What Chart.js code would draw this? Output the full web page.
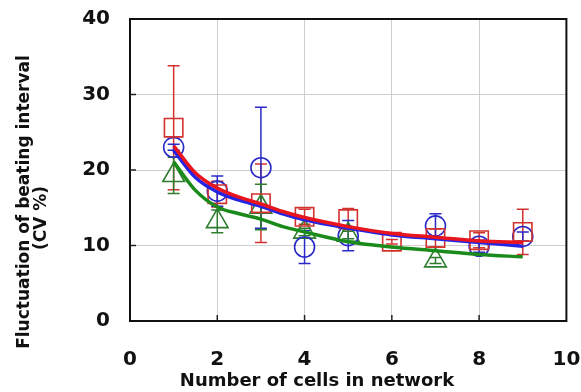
<!DOCTYPE html>
<html>
<head>
<meta charset="utf-8">
<script src="https://cdn.jsdelivr.net/npm/chart.js@4"></script>
<style>
  html, body { margin: 0; padding: 0; background: #fff; }
  #wrap { width: 581px; height: 392px; }
</style>
</head>
<body>
<div id="wrap"><canvas id="chart" width="581" height="392"></canvas></div>
<script>
// measured points (mean +- error)
const redX = [1, 2, 3, 4, 5, 6, 7, 8, 9]
const redY = [25.6, 16.8, 15.6, 13.8, 13.5, 10.5, 11.0, 10.7, 11.8]
const redErr = [8.2, 1.7, 5.2, 1.0, 1.4, 0.3, 1.2, 1.0, 3.0]

const blueX = [1, 2, 3, 4, 5, 7, 8, 9]
const blueY = [23.0, 17.2, 20.3, 9.8, 11.3, 12.6, 9.9, 11.2]
const blueErr = [0.4, 2.0, 8.0, 2.2, 2.0, 1.6, 0.8, 0.6]

const greenX = [1, 2, 3, 4, 5, 7]
const greenY = [19.3, 13.2, 15.1, 11.8, 11.4, 8.0]
const greenErr = [2.4, 1.5, 3.0, 0.5, 0.5, 0.4]

// fitted curves
const curveX = [1, 1.5, 2, 2.5, 3, 3.5, 4, 5, 6, 7, 8, 9]
const redFit = [23.2, 19.6, 17.6, 16.4, 15.5, 14.5, 13.7, 12.5, 11.6, 11.1, 10.6, 10.4]
const blueFit = [22.6, 19.0, 17.1, 16.0, 15.2, 14.2, 13.4, 12.3, 11.4, 10.9, 10.4, 9.9]
const greenFit = [21.1, 17.3, 15.1, 14.2, 13.5, 12.5, 11.8, 10.5, 9.8, 9.3, 8.8, 8.5]

const xTicks = [0, 2, 4, 6, 8, 10]
const yTicks = [0, 10, 20, 30, 40]

const FONT = '"DejaVu Sans", Arial, sans-serif'

const pts = (xs, ys) => xs.map((x, i) => ({ x, y: ys[i] }))

const fitLine = (data, color) => ({
  type: 'line',
  data: pts(curveX, data),
  borderColor: color,
  borderWidth: 3.5,
  pointRadius: 0,
  fill: false,
  cubicInterpolationMode: 'monotone'
})

const markers = (xs, ys, errs, color, style, r) => ({
  type: 'scatter',
  data: pts(xs, ys),
  errs,
  pointStyle: style,
  pointRadius: r,
  pointHoverRadius: r,
  pointBorderColor: color,
  pointBackgroundColor: 'rgba(0,0,0,0)',
  pointBorderWidth: 1.6,
  showLine: false
})

// error bars, frame, inner ticks and axis titles
const extras = {
  id: 'extras',
  beforeDatasetsDraw (chart) {
    const { ctx, scales: { x, y } } = chart
    ctx.save()
    ctx.lineWidth = 1.5
    chart.data.datasets.forEach((ds) => {
      if (!ds.errs) return
      ctx.strokeStyle = ds.pointBorderColor
      ds.data.forEach((p, i) => {
        const px = x.getPixelForValue(p.x)
        const top = y.getPixelForValue(p.y + ds.errs[i])
        const bot = y.getPixelForValue(p.y - ds.errs[i])
        ctx.beginPath()
        ctx.moveTo(px, top); ctx.lineTo(px, bot)
        ctx.moveTo(px - 6, top); ctx.lineTo(px + 6, top)
        ctx.moveTo(px - 6, bot); ctx.lineTo(px + 6, bot)
        ctx.stroke()
      })
    })
    ctx.restore()
  },
  afterDraw (chart) {
    const { ctx, chartArea: a, scales: { x, y } } = chart
    ctx.save()
    ctx.strokeStyle = '#222'
    ctx.lineWidth = 1.5
    yTicks.slice(1, -1).forEach((v) => {
      const py = y.getPixelForValue(v)
      ctx.beginPath(); ctx.moveTo(a.left, py); ctx.lineTo(a.left + 6, py); ctx.stroke()
    })
    xTicks.slice(1, -1).forEach((v) => {
      const px = x.getPixelForValue(v)
      ctx.beginPath(); ctx.moveTo(px, a.bottom); ctx.lineTo(px, a.bottom - 6); ctx.stroke()
    })
    ctx.lineWidth = 2
    ctx.strokeStyle = '#111'
    ctx.strokeRect(a.left, a.top, a.right - a.left, a.bottom - a.top)

    ctx.fillStyle = '#111'
    ctx.textAlign = 'center'
    ctx.textBaseline = 'middle'
    ctx.font = 'bold 18px ' + FONT
    ctx.fillText('Number of cells in network', 317, 381)

    ctx.font = 'bold 17px ' + FONT
    ctx.translate(25, 202)
    ctx.rotate(-Math.PI / 2)
    ctx.fillText('Fluctuation of beating interval', 0, 0)
    ctx.fillText('(CV %)', -16, 17)
    ctx.restore()
  }
}

new Chart(document.getElementById('chart'), {
  type: 'scatter',
  data: {
    datasets: [
      fitLine(redFit, '#e8141e'),
      fitLine(blueFit, '#2424e6'),
      fitLine(greenFit, '#1a8a1a'),
      markers(redX, redY, redErr, '#d2322d', 'rect', 13),
      markers(blueX, blueY, blueErr, '#2a2ac8', 'circle', 10),
      markers(greenX, greenY, greenErr, '#2e7d2e', 'triangle', 12.5)
    ]
  },
  options: {
    responsive: false,
    animation: false,
    layout: { padding: { left: 0, right: 13, top: 19, bottom: 0 } },
    plugins: { legend: { display: false }, tooltip: { enabled: false } },
    scales: {
      x: {
        type: 'linear',
        min: 0,
        max: 10,
        afterFit (s) {
          s.height = 71
          s.paddingLeft = 0
          s.paddingRight = 0
        },
        afterBuildTicks (s) { s.ticks = xTicks.map(v => ({ value: v })) },
        grid: {
          drawTicks: false,
          color: (c) => (c.tick && (c.tick.value === 0 || c.tick.value === 10)) ? 'rgba(0,0,0,0)' : '#cfcfcf'
        },
        border: { display: false },
        ticks: { padding: 27, color: '#111', font: { family: FONT, size: 20, weight: 'bold' } }
      },
      y: {
        min: 0,
        max: 40,
        afterFit (s) {
          s.width = 130
          s.paddingTop = 0
          s.paddingBottom = 0
        },
        afterBuildTicks (s) { s.ticks = yTicks.map(v => ({ value: v })) },
        grid: {
          drawTicks: false,
          color: (c) => (c.tick && (c.tick.value === 0 || c.tick.value === 40)) ? 'rgba(0,0,0,0)' : '#cfcfcf'
        },
        border: { display: false },
        ticks: { padding: 20, color: '#111', font: { family: FONT, size: 20, weight: 'bold' } }
      }
    }
  },
  plugins: [extras]
})
</script>
</body>
</html>
